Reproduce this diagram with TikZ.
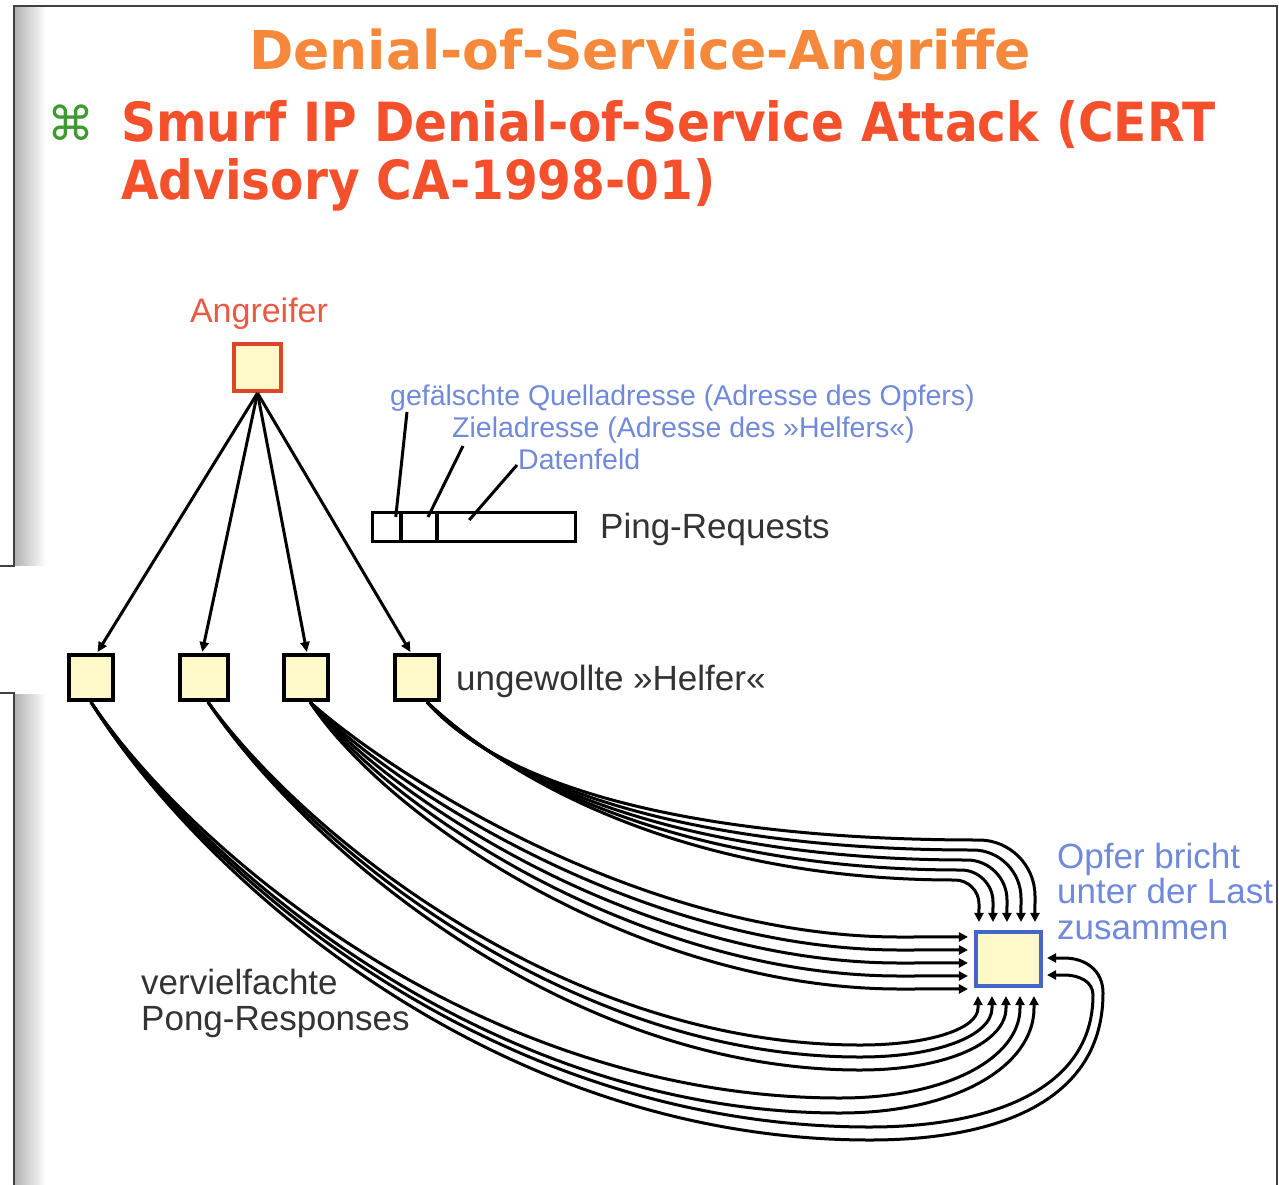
\documentclass[tikz,border=0pt]{standalone}
\usepackage{fontspec}
\setmainfont{Liberation Sans}
\newfontfamily\headfont{DejaVu Sans}
\newfontfamily\subheadfont[FakeStretch=0.9]{DejaVu Sans}
\usetikzlibrary{arrows.meta,calc}

\definecolor{titleorange}{HTML}{F5883A}
\definecolor{subred}{HTML}{F4502C}
\definecolor{bulletgreen}{HTML}{3C9A2E}
\definecolor{attackred}{HTML}{E04428}
\definecolor{attacktext}{HTML}{E85A44}
\definecolor{noteblue}{HTML}{7089DA}
\definecolor{boxfill}{HTML}{FFF8C8}
\definecolor{victimblue}{HTML}{4466C8}
\definecolor{labelgray}{HTML}{333333}
\definecolor{framegray}{HTML}{404040}

\begin{document}
\begin{tikzpicture}[x=1pt,y=-1pt,
  host/.style={draw=black, fill=boxfill, line width=3.6pt, minimum width=44.5pt,
    minimum height=45.5pt, inner sep=0pt},
  cell/.style={draw=black, line width=3.4pt, minimum height=29pt, inner sep=0pt},
  label/.style={inner sep=0pt, text=labelgray, font=\fontsize{35}{36}\selectfont},
  note/.style={inner sep=0pt, text=noteblue, font=\fontsize{28.5}{30}\selectfont},
  push/.style={draw=black, line width=3pt, shorten >=1pt,
    -{Triangle[length=10pt,width=9pt]}},
  flow/.style={draw=black, line width=3pt, -{Triangle[length=9pt,width=9pt]}},
  lead/.style={draw=black, line width=3pt}
]
\useasboundingbox (0,0) rectangle (1279,1185);

% slide frame with its shadow strip
\shade[left color=black!30, right color=white] (15,7) rectangle (46,565);
\shade[left color=black!30, right color=white] (15,694) rectangle (46,1185);
\draw[framegray, line width=2pt] (0,566) -- (14,566) -- (14,6) -- (1277,6) -- (1277,1185);
\draw[framegray, line width=2pt] (0,693) -- (14,693) -- (14,1185);

% headings
\node[anchor=base, inner sep=0pt, text=titleorange,
  font=\headfont\bfseries\fontsize{53.5}{60}\selectfont] (title) at (640,70)
  {Denial-of-Service-Angriffe};
\node[inner sep=0pt, text=bulletgreen, font=\headfont\fontsize{47}{47}\selectfont]
  (bullet) at (71,123) {⌘};
\node[anchor=base west, inner sep=0pt, text=subred,
  font=\subheadfont\bfseries\fontsize{54}{58}\selectfont] (sub1) at (121,142)
  {Smurf IP Denial-of-Service Attack (CERT};
\node[anchor=base west, inner sep=0pt, text=subred,
  font=\subheadfont\bfseries\fontsize{54}{58}\selectfont] (sub2) at (121,200)
  {Advisory CA-1998-01)};

% attacker, helpers and victim
\node[anchor=base, inner sep=0pt, text=attacktext, font=\fontsize{34}{36}\selectfont]
  (lblA) at (259,322) {Angreifer};
\node[host, draw=attackred, minimum width=47.5pt, minimum height=47.5pt] (A) at (257.5,367.5) {};
\node[host] (H1) at (91,677.5) {};
\node[host, minimum width=47.5pt] (H2) at (204,677.5) {};
\node[host] (H3) at (306,677.5) {};
\node[host] (H4) at (417,677.5) {};
\node[host, draw=victimblue, minimum width=65.5pt, minimum height=54.5pt] (V) at (1008.5,959) {};

\draw[push] (A.south) -- ($(H1.north)+(6,0)$);
\draw[push] (A.south) -- ($(H2.north)+(-2,0)$);
\draw[push] (A.south) -- ($(H3.north)+(1,0)$);
\draw[push] (A.south) -- ($(H4.north)+(-6,0)$);

% ping request packet
\node[cell, minimum width=28.5pt] (p1) at (386.75,527) {};
\node[cell, minimum width=36pt] (p2) at (419,527) {};
\node[cell, minimum width=138.5pt] (p3) at (506.25,527) {};
\node[label, anchor=base west] (ping) at (600,538) {Ping-Requests};

\node[note, anchor=base west] (src) at (390,405) {gefälschte Quelladresse (Adresse des Opfers)};
\node[note, anchor=base west] (dst) at (452,437) {Zieladresse (Adresse des »Helfers«)};
\node[note, anchor=base west] (data) at (518,469) {Datenfeld};
\draw[lead] ($(src.base west)+(17,7)$) -- ($(p1.center)+(9,-10)$);
\draw[lead] ($(dst.base west)+(11,9)$) -- ($(p2.center)+(9,-10)$);
\draw[lead] ($(data.base west)+(-1,-4)$) -- ($(p3.center)+(-37,-7)$);

% labels
\node[label, anchor=base west] (helpers) at (456,690) {ungewollte »Helfer«};
\node[label, anchor=base west] (pong1) at (141,994) {vervielfachte};
\node[label, anchor=base west] (pong2) at (141,1030) {Pong-Responses};
\node[label, text=noteblue, anchor=base west] (v1) at (1057,868) {Opfer bricht};
\node[label, text=noteblue, anchor=base west] (v2) at (1057,903) {unter der Last};
\node[label, text=noteblue, anchor=base west] (v3) at (1057,939) {zusammen};

% fourth helper: responses arriving from above
\foreach \k in {0,...,4}{
  \pgfmathsetmacro\fy{840+10*\k}
  \pgfmathsetmacro\xx{1035-14*\k}
  \pgfmathsetmacro\rr{56-8*\k}
  \pgfmathsetmacro\hx{\xx-\rr}
  \pgfmathsetmacro\cxa{\hx+0.55*\rr}
  \pgfmathsetmacro\vy{\fy+\rr}
  \pgfmathsetmacro\cyb{\vy-0.55*\rr}
  \pgfmathsetmacro\ca{505+4*\k}
  \draw[flow] ($(H4.south)+(10,0)$) .. controls (\ca,790) and (700,\fy) .. (\hx,\fy)
    .. controls (\cxa,\fy) and (\xx,\cyb) .. (\xx,\vy)
    -- ($(V.north west)+({61-14*\k},-8)$);
}

% third helper: responses arriving from the left
\foreach \k in {0,...,4}{
  \pgfmathsetmacro\ey{937+13*\k}
  \pgfmathsetmacro\cy{772+12*\k}
  \draw[flow] ($(H3.south)+(4,0)$) .. controls (388,\cy) and (640,\ey) .. (900,\ey)
    -- ($(V.north west)+(-6,{7+13*\k})$);
}

% second helper: responses arriving from below
\foreach \k/\f in {0/1045,1/1057,2/1070}{
  \pgfmathsetmacro\xx{978+14*\k}
  \pgfmathsetmacro\cxa{860+0.6*(\xx-860)}
  \pgfmathsetmacro\cyb{\f-0.45*(\f-1008)}
  \pgfmathsetmacro\cy{830+5*\k}
  \draw[flow] ($(H2.south)+(4,0)$) .. controls (300,\cy) and (560,\f) .. (860,\f)
    .. controls (\cxa,\f) and (\xx,\cyb) .. (\xx,1008)
    -- ($(V.south west)+({4+14*\k},8)$);
}

% first helper: two from below, two wrapping round to the right side
\foreach \k/\f in {0/1098,1/1113}{
  \pgfmathsetmacro\xx{1020+14*\k}
  \pgfmathsetmacro\cxa{840+0.6*(\xx-840)}
  \pgfmathsetmacro\cyb{\f-0.45*(\f-1008)}
  \pgfmathsetmacro\cy{850+4*\k}
  \draw[flow] (H1.south) .. controls (190,\cy) and (480,\f) .. (840,\f)
    .. controls (\cxa,\f) and (\xx,\cyb) .. (\xx,1008)
    -- ($(V.south west)+({46+14*\k},8)$);
}
\draw[flow] (H1.south) .. controls (190,858) and (480,1127) .. (870,1127)
  .. controls (990,1127) and (1093,1090) .. (1093,995)
  .. controls (1093,982) and (1080,975) .. (1064,975)
  -- ($(V.east)+(4,16)$);
\draw[flow] (H1.south) .. controls (190,862) and (480,1140) .. (870,1140)
  .. controls (1000,1140) and (1103,1100) .. (1103,993)
  .. controls (1103,970) and (1085,958) .. (1064,958)
  -- ($(V.east)+(4,-1)$);
\end{tikzpicture}
\end{document}
